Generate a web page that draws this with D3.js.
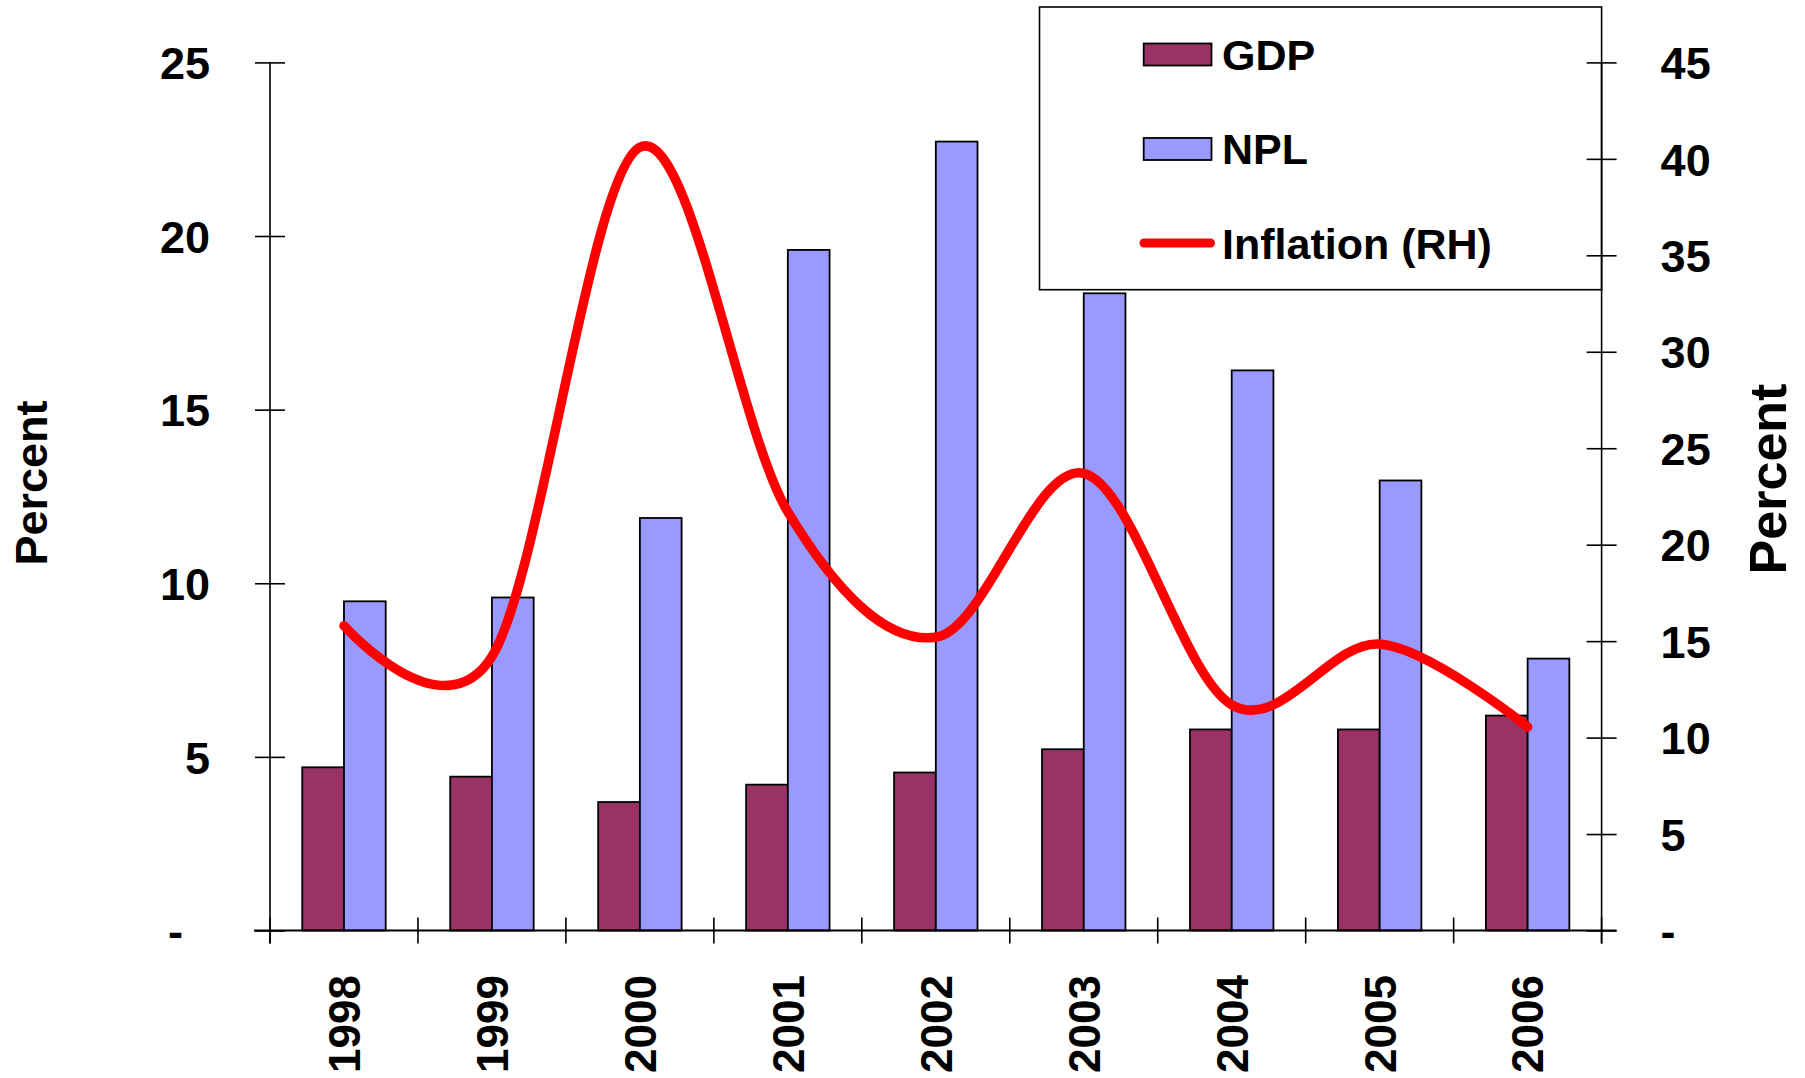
<!DOCTYPE html>
<html>
<head>
<meta charset="utf-8">
<script src="https://cdn.jsdelivr.net/npm/d3@7"></script>
<style>
  html, body { margin: 0; padding: 0; background: #fff; }
  svg { display: block; }
  text { font-family: "Liberation Sans", Arial, sans-serif; font-weight: bold; fill: #000; }
</style>
</head>
<body>
<svg id="chart" width="1805" height="1078"></svg>
<script>
// ---- data ----
const years = ["1998", "1999", "2000", "2001", "2002", "2003", "2004", "2005", "2006"];
const gdp = [4.70, 4.43, 3.70, 4.20, 4.55, 5.22, 5.79, 5.79, 6.19];
const npl = [9.48, 9.59, 11.88, 19.60, 22.72, 18.35, 16.13, 12.96, 7.83];
const inflation = [15.8, 14.2, 40.6, 21.7, 15.2, 23.7, 11.7, 14.85, 10.55];
const leftTicks = [0, 5, 10, 15, 20, 25];
const rightTicks = [0, 5, 10, 15, 20, 25, 30, 35, 40, 45];
const seriesNames = ["GDP", "NPL", "Inflation (RH)"];
const colors = { GDP: "#993366", NPL: "#9999FF", "Inflation (RH)": "#FF0000" };

// ---- layout ----
const svg = d3.select("#chart");
const plotLeft = 270, plotRight = 1601.6, plotTop = 62.4, plotBottom = 930.5;

const x = d3.scaleBand().domain(years).range([plotLeft, plotRight]).paddingInner(0.436).paddingOuter(0.218);
const xs = d3.scaleBand().domain(["GDP", "NPL"]).range([0, x.bandwidth()]);
const yL = d3.scaleLinear().domain([0, 25]).range([plotBottom, plotTop]);
const yR = d3.scaleLinear().domain([0, 45]).range([plotBottom, plotTop]);

const fmt = v => v === 0 ? "-" : String(v);

// ---- bars ----
const rows = years.map((y, i) => ({ year: y, GDP: gdp[i], NPL: npl[i] }));
const groups = svg.append("g").selectAll("g").data(rows).join("g")
  .attr("transform", d => `translate(${x(d.year)},0)`);
groups.selectAll("rect").data(d => ["GDP", "NPL"].map(k => ({ key: k, value: d[k] }))).join("rect")
  .attr("x", d => xs(d.key))
  .attr("width", xs.bandwidth())
  .attr("y", d => yL(d.value))
  .attr("height", d => yL(0) - yL(d.value))
  .attr("fill", d => colors[d.key])
  .attr("stroke", "#000")
  .attr("stroke-width", 1.8);

// ---- inflation line ----
const lineData = years.map((y, i) => ({ year: y, v: inflation[i] }));
svg.append("path")
  .datum(lineData)
  .attr("fill", "none")
  .attr("stroke", colors["Inflation (RH)"])
  .attr("stroke-width", 9.5)
  .attr("stroke-linecap", "round")
  .attr("stroke-linejoin", "round")
  .attr("d", d3.line().x(d => x(d.year) + x.bandwidth() / 2).y(d => yR(d.v)).curve(d3.curveCardinal.tension(0)));

// ---- legend ----
const lg = svg.append("g");
lg.append("rect").attr("x", 1039.5).attr("y", 7).attr("width", plotRight - 1039.5).attr("height", 282.7)
  .attr("fill", "#fff").attr("stroke", "#000").attr("stroke-width", 1.6);
const legendY = [54.5, 149, 244];
seriesNames.forEach((name, i) => {
  const cy = legendY[i];
  if (i < 2) {
    lg.append("rect").attr("x", 1143.7).attr("y", cy - 11).attr("width", 67.8).attr("height", 22)
      .attr("fill", colors[name]).attr("stroke", "#000").attr("stroke-width", 1.8);
  } else {
    lg.append("line").attr("x1", 1144).attr("x2", 1210.5).attr("y1", cy - 1).attr("y2", cy - 1)
      .attr("stroke", colors[name]).attr("stroke-width", 9).attr("stroke-linecap", "round");
  }
  lg.append("text").attr("x", 1222).attr("y", cy).attr("dy", "0.35em")
    .style("font-size", "43px").text(name);
});

// ---- left axis ----
const gl = svg.append("g").attr("transform", `translate(${plotLeft},0)`)
  .call(d3.axisLeft(yL).tickValues(leftTicks).tickFormat(fmt).tickSize(15).tickSizeOuter(0));
gl.select(".domain").remove();
gl.selectAll(".tick line").attr("x1", 15).attr("x2", -15).attr("stroke", "#000").attr("stroke-width", 1.6);
gl.selectAll(".tick text").attr("x", -60).attr("dy", "0.36em").style("font-size", "45px")
  .attr("dx", d => d === 0 ? -27 : 0).attr("font-family", null);
gl.append("line").attr("x1", 0).attr("x2", 0).attr("y1", yL(25)).attr("y2", yL(0) + 13)
  .attr("stroke", "#000").attr("stroke-width", 1.6);

// ---- right axis ----
const gr = svg.append("g").attr("transform", `translate(${plotRight},0)`)
  .call(d3.axisRight(yR).tickValues(rightTicks).tickFormat(fmt).tickSize(15).tickSizeOuter(0));
gr.select(".domain").remove();
gr.selectAll(".tick line").attr("x1", -15).attr("x2", 15).attr("stroke", "#000").attr("stroke-width", 1.6);
gr.selectAll(".tick text").attr("x", 59).attr("dy", "0.36em").style("font-size", "45px").attr("font-family", null);
gr.append("line").attr("x1", 0).attr("x2", 0).attr("y1", yR(45)).attr("y2", yR(0) + 13)
  .attr("stroke", "#000").attr("stroke-width", 1.6);

// ---- x axis ----
const gx = svg.append("g").attr("transform", `translate(0,${plotBottom})`);
gx.append("line").attr("x1", plotLeft - 16).attr("x2", plotRight + 15).attr("y1", 0).attr("y2", 0)
  .attr("stroke", "#000").attr("stroke-width", 2);
const boundaries = d3.range(years.length + 1).map(i => plotLeft + i * x.step());
gx.selectAll("line.b").data(boundaries).join("line").attr("class", "b")
  .attr("x1", d => d).attr("x2", d => d).attr("y1", -13).attr("y2", 13)
  .attr("stroke", "#000").attr("stroke-width", 1.6);
const gxl = svg.append("g").attr("transform", `translate(0,${plotBottom})`)
  .call(d3.axisBottom(x).tickSize(0));
gxl.select(".domain").remove();
gxl.selectAll(".tick text")
  .attr("transform", "rotate(-90)")
  .attr("x", -44.5).attr("y", 0).attr("dy", "0.36em")
  .attr("text-anchor", "end").style("font-size", "44px").attr("font-family", null);

// ---- axis titles ----
svg.append("text").attr("transform", "translate(47,483) rotate(-90)")
  .attr("text-anchor", "middle").style("font-size", "45px").text("Percent");
svg.append("text").attr("transform", "translate(1786,479) rotate(-90)")
  .attr("text-anchor", "middle").style("font-size", "52px").text("Percent");
</script>
</body>
</html>
